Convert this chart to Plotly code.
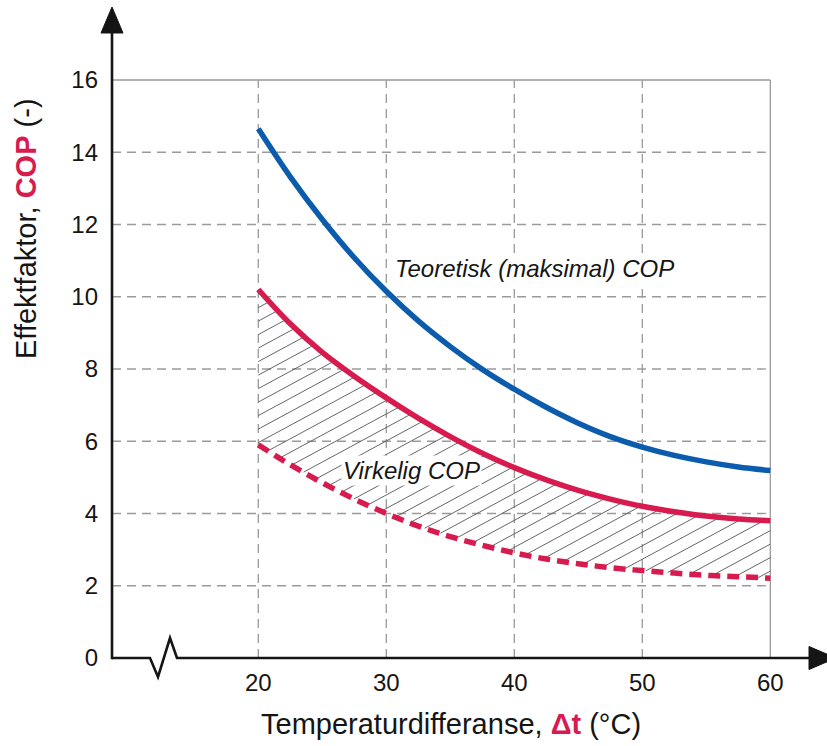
import numpy as np
import plotly.graph_objects as go

# ---------------- data ----------------
dt = [20, 22.5, 25, 27.5, 30, 32.5, 35, 37.5, 40, 42.5, 45, 47.5, 50, 52.5, 55, 57.5, 60]
cop_teoretisk = [14.65, 13.32, 12.14, 11.08, 10.15, 9.33, 8.62, 7.99, 7.44, 6.94, 6.50, 6.13,
                 5.84, 5.61, 5.43, 5.29, 5.19]
cop_virkelig_ovre = [10.2, 9.25, 8.46, 7.80, 7.2, 6.64, 6.13, 5.67, 5.27, 4.93, 4.64, 4.40,
                     4.2, 4.05, 3.93, 3.85, 3.8]
cop_virkelig_nedre = [5.9, 5.35, 4.85, 4.40, 4.0, 3.65, 3.36, 3.12, 2.91, 2.74, 2.61, 2.50,
                      2.42, 2.35, 2.29, 2.25, 2.21]
x_ticks = [20, 30, 40, 50, 60]
y_ticks = [0, 2, 4, 6, 8, 10, 12, 14, 16]

label_teoretisk = "Teoretisk (maksimal) COP"
label_virkelig = "Virkelig COP"

BLUE = "#0b5cad"
RED = "#d81b4f"
GRID = "#9a9a9a"
INK = "#151515"
FONT = "Liberation Sans, Arial, sans-serif"

# ---------------- layout geometry (pixels) ----------------
W, H = 827, 746
L, R, T, B = 112, 827, 8, 658
X_MIN, X_MAX = 20 - (258.3 - L) / 12.8, 20 + (R - 258.3) / 12.8
Y_MIN, Y_MAX = 0, (B - T) / 36.125


def px(x):
    return (x - L) / (R - L)


def py(y):
    return (B - y) / (B - T)


fig = go.Figure()

# ---------------- hatching between the two "virkelig" curves ----------------
xs = np.linspace(dt[0], dt[-1], 4001)
up = np.interp(xs, dt, cop_virkelig_ovre)
lo = np.interp(xs, dt, cop_virkelig_nedre)
slope = 0.54 * 12.8 / 36.125   # hatch pixel slope converted to data units
step = 13.5 / 36.125            # vertical spacing of hatch lines
c_lo = lo[-1] - slope * (dt[-1] - dt[0]) - step
c_vals = []
c = 9.7
while c > c_lo:
    c_vals.append(c)
    c -= step
c = 9.7 + step
while c < up[0]:
    c_vals.append(c)
    c += step
hx, hy = [], []
for c in c_vals:
    line = c + slope * (xs - dt[0])
    m = np.where((line >= lo) & (line <= up))[0]
    if len(m) >= 2:
        hx += [xs[m[0]], xs[m[-1]], None]
        hy += [line[m[0]], line[m[-1]], None]

fig.add_trace(go.Scatter(x=hx, y=hy, mode="lines",
                         line=dict(color="#555555", width=0.9),
                         hoverinfo="skip", showlegend=False))

# ---------------- curves ----------------
fig.add_trace(go.Scatter(x=dt, y=cop_virkelig_nedre, mode="lines",
                         line=dict(color=RED, width=5.5, dash="12px,7px", shape="spline"),
                         showlegend=False))
fig.add_trace(go.Scatter(x=dt, y=cop_virkelig_ovre, mode="lines",
                         line=dict(color=RED, width=5.5, shape="spline"),
                         showlegend=False))
fig.add_trace(go.Scatter(x=dt, y=cop_teoretisk, mode="lines",
                         line=dict(color=BLUE, width=5.5, shape="spline"),
                         showlegend=False))

# ---------------- grid (limited to the 20..60 / 0..16 frame) ----------------
shapes = []
for v in y_ticks[1:]:
    shapes.append(dict(type="line", xref="x", yref="y", x0=X_MIN, x1=x_ticks[-1], y0=v, y1=v,
                       line=dict(color=GRID, width=1.3, dash="solid" if v == y_ticks[-1] else "9px,6px"),
                       layer="below"))
for v in x_ticks:
    shapes.append(dict(type="line", xref="x", yref="y", x0=v, x1=v, y0=0, y1=y_ticks[-1],
                       line=dict(color=GRID, width=1.3, dash="solid" if v == x_ticks[-1] else "9px,6px"),
                       layer="below"))

# ---------------- axes with arrows and break ----------------
xpath = (f"M {px(L)},{py(B)} L {px(150)},{py(B)} L {px(158)},{py(677)} "
         f"L {px(170)},{py(638)} L {px(177)},{py(B)} L {px(812)},{py(B)}")
shapes.append(dict(type="path", xref="paper", yref="paper", path=xpath,
                   line=dict(color=INK, width=2.6), layer="above"))
shapes.append(dict(type="path", xref="paper", yref="paper",
                   path=f"M {px(L)},{py(B + 1.2)} L {px(L)},{py(30)}",
                   line=dict(color=INK, width=2.6), layer="above"))
shapes.append(dict(type="path", xref="paper", yref="paper",
                   path=f"M {px(L)},{py(7)} L {px(L - 11)},{py(33)} L {px(L + 11)},{py(33)} Z",
                   fillcolor=INK, line=dict(color=INK, width=1), layer="above"))
shapes.append(dict(type="path", xref="paper", yref="paper",
                   path=f"M {px(836)},{py(B)} L {px(809)},{py(B - 11.5)} L {px(809)},{py(B + 11.5)} Z",
                   fillcolor=INK, line=dict(color=INK, width=1), layer="above"))

annotations = [
    dict(x=41.54, y=10.78, xref="x", yref="y", text=f"<i>{label_teoretisk}</i>",
         showarrow=False, font=dict(family=FONT, size=24, color=INK),
         bgcolor="white", borderpad=1),
    dict(x=31.93, y=5.2, xref="x", yref="y", text=f"<i>{label_virkelig}</i>",
         showarrow=False, font=dict(family=FONT, size=24, color=INK),
         bgcolor="white", borderpad=1),
    dict(x=px(26), y=py(229), xref="paper", yref="paper", textangle=-90,
         text=f"Effektfaktor, <b><span style='color:{RED}'>COP</span></b> (-)",
         showarrow=False, font=dict(family=FONT, size=29, color=INK),
         xanchor="center", yanchor="middle"),
    dict(x=px(451), y=py(724), xref="paper", yref="paper",
         text=f"Temperaturdifferanse, <b><span style='color:{RED}'>Δt</span></b> (°C)",
         showarrow=False, font=dict(family=FONT, size=29, color=INK),
         xanchor="center", yanchor="middle"),
]

fig.update_layout(
    width=W, height=H,
    margin=dict(l=L, r=W - R, t=T, b=H - B, pad=0),
    paper_bgcolor="white", plot_bgcolor="white",
    font=dict(family=FONT, size=24, color=INK),
    shapes=shapes, annotations=annotations,
    xaxis=dict(range=[X_MIN, X_MAX], tickvals=x_ticks, ticktext=[str(v) for v in x_ticks],
               showgrid=False, zeroline=False, showline=False, ticks="",
               ticklabelstandoff=8, tickfont=dict(size=24)),
    yaxis=dict(range=[Y_MIN, Y_MAX], tickvals=y_ticks, ticktext=[str(v) for v in y_ticks],
               showgrid=False, zeroline=False, showline=False, ticks="",
               ticklabelstandoff=13, tickfont=dict(size=24)),
)

fig.write_html("out.html", config={"displayModeBar": False},
               post_script="document.body.style.margin='0px';document.body.style.overflow='hidden';")
